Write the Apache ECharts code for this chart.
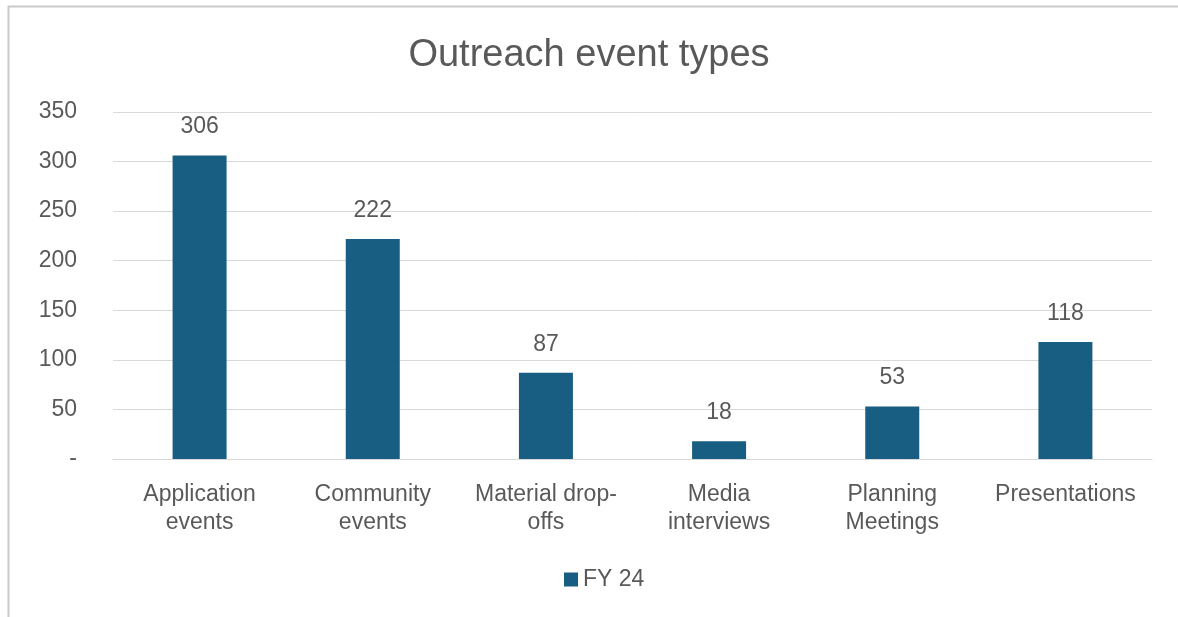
<!DOCTYPE html>
<html>
<head>
<meta charset="utf-8">
<script src="https://cdn.jsdelivr.net/npm/echarts@6/dist/echarts.min.js"></script>
<style>
html,body{margin:0;padding:0;background:#fff;}
#c{width:1178px;height:617px;}
</style>
</head>
<body>
<div id="c"></div>
<script>
const categories = ['Application\nevents', 'Community\nevents', 'Material drop-\noffs', 'Media\ninterviews', 'Planning\nMeetings', 'Presentations'];
const seriesName = 'FY 24';
const values = [306, 222, 87, 18, 53, 118];
const titleText = 'Outreach event types';

const chart = echarts.init(document.getElementById('c'), null, {renderer: 'canvas'});
const font = 'Liberation Sans, Arial, sans-serif';
chart.setOption({
  animation: false,
  backgroundColor: '#fff',
  graphic: [{
    type: 'rect',
    shape: {x: 8.5, y: 6.5, width: 1300, height: 800},
    style: {fill: 'none', stroke: '#c9c9c9', lineWidth: 2},
    silent: true
  }],
  title: {
    text: titleText,
    left: 'center',
    top: 32,
    textStyle: {fontFamily: font, fontSize: 38, fontWeight: 'normal', color: '#595959'}
  },
  legend: {
    bottom: 21,
    left: 559,
    itemWidth: 14,
    itemHeight: 14,
    itemGap: 9,
    icon: 'rect',
    textStyle: {fontFamily: font, fontSize: 23, color: '#595959'},
    data: [seriesName]
  },
  grid: {left: 113, right: 26, top: 112, bottom: 158, containLabel: false},
  xAxis: {
    type: 'category',
    data: categories,
    axisLine: {lineStyle: {color: '#d9d9d9', width: 1}},
    axisTick: {show: false},
    axisLabel: {
      interval: 0,
      margin: 22,
      fontFamily: font,
      fontSize: 23,
      lineHeight: 28,
      color: '#595959'
    }
  },
  yAxis: {
    type: 'value',
    min: 0,
    max: 350,
    interval: 50,
    axisLine: {show: false},
    axisTick: {show: false},
    splitLine: {lineStyle: {color: '#d9d9d9', width: 1}},
    axisLabel: {
      margin: 36,
      fontFamily: font,
      fontSize: 23,
      color: '#595959',
      formatter: v => v === 0 ? '-' : String(v)
    }
  },
  series: [{
    name: seriesName,
    type: 'bar',
    data: values,
    barWidth: 54,
    itemStyle: {color: '#175E82'},
    label: {
      show: true,
      position: 'top',
      distance: 17,
      fontFamily: font,
      fontSize: 23,
      color: '#595959'
    }
  }]
});
</script>
</body>
</html>
